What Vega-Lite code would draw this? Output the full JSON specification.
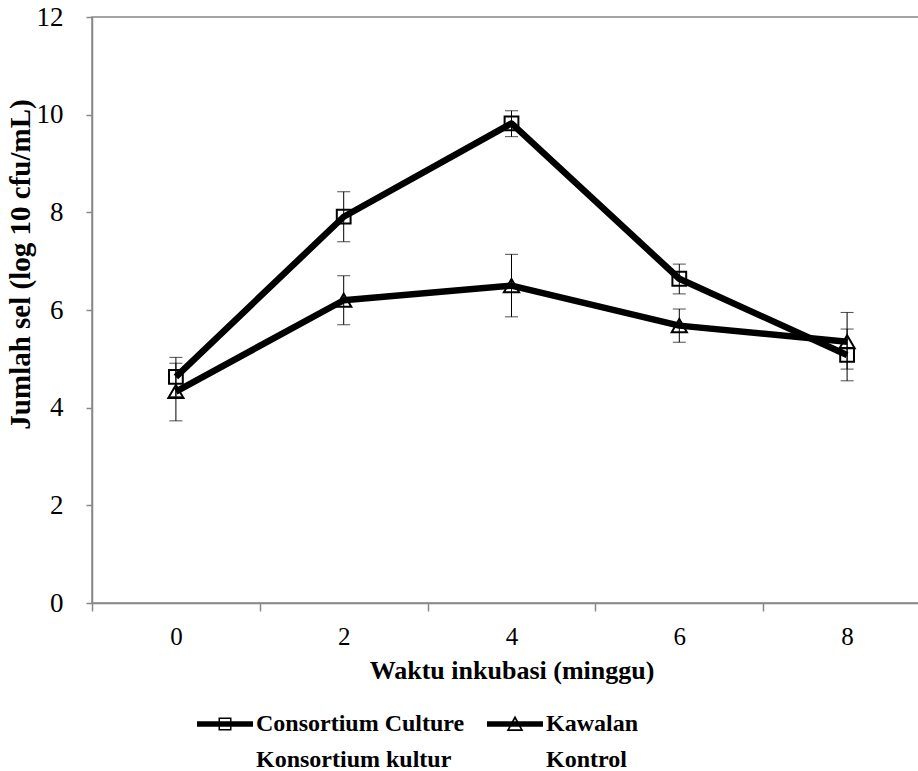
{
  "$schema": "https://vega.github.io/schema/vega-lite/v6.json",
  "width": 839,
  "height": 586,
  "autosize": "none",
  "padding": {"left": 92, "top": 17, "right": 0, "bottom": 168},
  "background": "white",
  "config": {
    "view": {"stroke": "#888888", "strokeWidth": 1.5},
    "font": "Liberation Serif",
    "style": {"guide-label": {"lineHeight": 36}},
    "axis": {
      "grid": false,
      "domainColor": "#888888",
      "domainWidth": 1.5,
      "tickColor": "#888888",
      "tickWidth": 1.5,
      "labelFont": "Liberation Serif",
      "labelFontSize": 25,
      "labelColor": "black",
      "titleFont": "Liberation Serif",
      "titleFontSize": 26,
      "titleFontWeight": "bold",
      "titleColor": "black"
    }
  },
  "data": {
    "values": [
      {"minggu": 0, "series": "Consortium Culture", "value": 4.63, "lo": 4.23, "hi": 5.03},
      {"minggu": 2, "series": "Consortium Culture", "value": 7.91, "lo": 7.40, "hi": 8.42},
      {"minggu": 4, "series": "Consortium Culture", "value": 9.82, "lo": 9.55, "hi": 10.08},
      {"minggu": 6, "series": "Consortium Culture", "value": 6.64, "lo": 6.33, "hi": 6.94},
      {"minggu": 8, "series": "Consortium Culture", "value": 5.08, "lo": 4.55, "hi": 5.61},
      {"minggu": 0, "series": "Kawalan", "value": 4.33, "lo": 3.73, "hi": 4.91},
      {"minggu": 2, "series": "Kawalan", "value": 6.20, "lo": 5.70, "hi": 6.70},
      {"minggu": 4, "series": "Kawalan", "value": 6.50, "lo": 5.86, "hi": 7.14},
      {"minggu": 6, "series": "Kawalan", "value": 5.68, "lo": 5.34, "hi": 6.02},
      {"minggu": 8, "series": "Kawalan", "value": 5.35, "lo": 4.79, "hi": 5.95}
    ]
  },
  "encoding": {
    "x": {
      "field": "minggu",
      "type": "ordinal",
      "scale": {"type": "band", "paddingInner": 0, "paddingOuter": 0},
      "axis": {
        "title": "Waktu inkubasi (minggu)",
        "labelAngle": 0,
        "tickBand": "extent",
        "tickSize": 8,
        "labelPadding": 13,
        "titlePadding": 8
      }
    }
  },
  "layer": [
    {
      "mark": {"type": "rule", "color": "black", "strokeWidth": 1},
      "encoding": {
        "y": {"field": "lo", "type": "quantitative", "title": "Jumlah sel (log 10 cfu/mL)",
              "scale": {"domain": [0, 12], "nice": false},
              "axis": {"values": [0, 2, 4, 6, 8, 10, 12], "tickSize": 6, "labelPadding": 23, "labelFontSize": 27,
                       "titleFontSize": 29, "titleX": -72, "titleY": 247, "titleAngle": 270,
                       "titleAlign": "center", "titleBaseline": "middle"}},
        "y2": {"field": "hi"}
      }
    },
    {
      "mark": {"type": "tick", "color": "black", "size": 13, "thickness": 1},
      "encoding": {
        "y": {"field": "lo", "type": "quantitative", "title": "Jumlah sel (log 10 cfu/mL)"}
      }
    },
    {
      "mark": {"type": "tick", "color": "black", "size": 13, "thickness": 1},
      "encoding": {
        "y": {"field": "hi", "type": "quantitative", "title": "Jumlah sel (log 10 cfu/mL)"}
      }
    },
    {
      "mark": {"type": "line", "color": "black", "strokeWidth": 6.5, "strokeJoin": "round"},
      "encoding": {
        "y": {"field": "value", "type": "quantitative", "title": "Jumlah sel (log 10 cfu/mL)"},
        "detail": {"field": "series"}
      }
    },
    {
      "transform": [{"filter": "datum.series == 'Consortium Culture'"}],
      "mark": {"type": "point", "shape": "square", "size": 190, "filled": false, "stroke": "black", "strokeWidth": 2, "opacity": 1},
      "encoding": {
        "y": {"field": "value", "type": "quantitative", "title": "Jumlah sel (log 10 cfu/mL)"}
      }
    },
    {
      "transform": [{"filter": "datum.series == 'Kawalan'"}],
      "mark": {"type": "point", "shape": "triangle-up", "size": 230, "filled": false, "stroke": "black", "strokeWidth": 2, "opacity": 1},
      "encoding": {
        "y": {"field": "value", "type": "quantitative", "title": "Jumlah sel (log 10 cfu/mL)"}
      }
    },
    {
      "mark": {"type": "point", "filled": true, "color": "black", "opacity": 0},
      "encoding": {
        "y": {"field": "value", "type": "quantitative", "title": "Jumlah sel (log 10 cfu/mL)"},
        "shape": {
          "field": "series",
          "type": "nominal",
          "scale": {
            "domain": ["Consortium Culture", "Kawalan"],
            "range": [
              "M-1,-0.1H1V0.1H-1ZM-0.232,-0.232H0.232V0.232H-0.232ZM-0.179,-0.179V0.179H0.179V-0.179Z",
              "M-1,-0.1H1V0.1H-1ZM0,-0.3L0.3,0.25H-0.3ZM0,-0.17L-0.2,0.19H0.2Z"
            ]
          },
          "legend": {
            "title": null,
            "orient": "none",
            "legendX": 105,
            "legendY": 679,
            "direction": "horizontal",
            "symbolSize": 3136,
            "symbolOpacity": 1,
            "symbolFillColor": "black",
            "symbolStrokeWidth": 0,
            "labelFont": "Liberation Serif",
            "labelFontWeight": "bold",
            "labelFontSize": 24,
            "labelColor": "black",
            "labelOffset": 3,
            "labelLimit": 400,
            "labelBaseline": "middle",
            "columnPadding": 22,
            "labelExpr": "datum.label == 'Kawalan' ? ['Kawalan', 'Kontrol'] : ['Consortium Culture', 'Konsortium kultur']",
            "encode": {"labels": {"update": {"lineHeight": {"value": 36}, "dy": {"value": 18}}}}
          }
        }
      }
    }
  ]
}
